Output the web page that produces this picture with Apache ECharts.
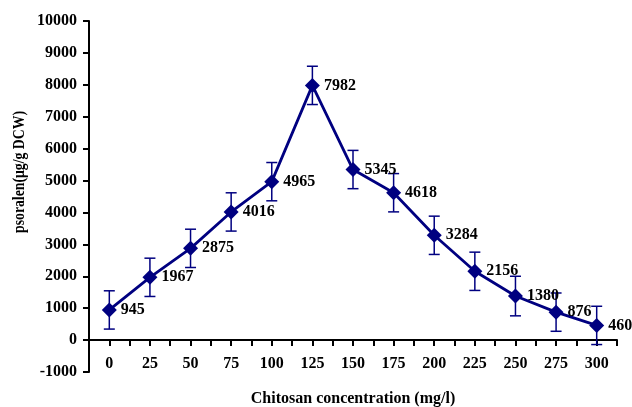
<!DOCTYPE html>
<html><head><meta charset="utf-8">
<script src="https://cdn.jsdelivr.net/npm/echarts@6/dist/echarts.min.js"></script>
<style>html,body{margin:0;padding:0;background:#fff}#c{width:632px;height:407px}</style>
</head><body><div id="c"></div>
<script>
var concentrations = [0, 25, 50, 75, 100, 125, 150, 175, 200, 225, 250, 275, 300];
var psoralen = [945, 1967, 2875, 4016, 4965, 7982, 5345, 4618, 3284, 2156, 1380, 876, 460];
var errors = [600, 600, 600, 600, 600, 600, 600, 600, 600, 600, 620, 600, 600];
var yTicks = {min: -1000, max: 10000, interval: 1000};
var xTicks = {min: -12.5, max: 312.5, interval: 12.5};

var font = '"Liberation Serif","Times New Roman",serif';
var navy = '#000080';
var lineData = concentrations.map(function(c, i){ return [c, psoralen[i]]; });
var errData = concentrations.map(function(c, i){ return [c, psoralen[i] - errors[i], psoralen[i] + errors[i]]; });

var chart = echarts.init(document.getElementById('c'));
chart.setOption({
  animation: false,
  grid: {left: 89, right: 15, top: 21, bottom: 35, containLabel: false, outerBoundsMode: 'none'},
  xAxis: [{
    type: 'value', min: xTicks.min, max: xTicks.max, interval: xTicks.interval,
    axisLine: {onZero: true, lineStyle: {color: '#000', width: 2}},
    axisTick: {show: true, inside: false, length: 6, lineStyle: {color: '#000', width: 2}},
    splitLine: {show: false},
    axisLabel: {show: false}
  }, {
    type: 'value', position: 'bottom', min: xTicks.min, max: xTicks.max, interval: xTicks.interval,
    axisLine: {show: false, onZero: false},
    axisTick: {show: false},
    splitLine: {show: false},
    axisLabel: {
      margin: -16, color: '#000', fontFamily: font, fontWeight: 'bold', fontSize: 16,
      formatter: function(v){ return (v >= 0 && v % 25 === 0) ? String(v) : ''; }
    },
    name: 'Chitosan concentration (mg/l)', nameLocation: 'middle', nameGap: 19,
    nameTextStyle: {color: '#000', fontFamily: font, fontWeight: 'bold', fontSize: 16}
  }],
  yAxis: {
    type: 'value', min: yTicks.min, max: yTicks.max, interval: yTicks.interval,
    axisLine: {show: true, onZero: false, lineStyle: {color: '#000', width: 2}},
    axisTick: {show: true, length: 6, lineStyle: {color: '#000', width: 2}},
    splitLine: {show: false},
    axisLabel: {margin: 12, color: '#000', fontFamily: font, fontWeight: 'bold', fontSize: 16,
      formatter: function(v){ return String(v); }}
  },
  graphic: [{
    type: 'text', x: 12, y: 233, rotation: Math.PI / 2, scaleX: 0.86,
    style: {text: 'psoralen(μg/g DCW)', font: 'bold 16px ' + font, fill: '#000', textVerticalAlign: 'top'}
  }],
  series: [{
    type: 'custom',
    xAxisIndex: 0,
    data: errData,
    z: 1,
    renderItem: function(params, api){
      var x = api.value(0);
      var lo = api.coord([x, api.value(1)]);
      var hi = api.coord([x, api.value(2)]);
      var w = 5.5;
      var st = {stroke: navy, lineWidth: 1.5};
      return {type: 'group', children: [
        {type: 'line', shape: {x1: lo[0], y1: lo[1], x2: hi[0], y2: hi[1]}, style: st},
        {type: 'line', shape: {x1: lo[0]-w, y1: lo[1], x2: lo[0]+w, y2: lo[1]}, style: st},
        {type: 'line', shape: {x1: hi[0]-w, y1: hi[1], x2: hi[0]+w, y2: hi[1]}, style: st}
      ]};
    }
  }, {
    type: 'line',
    xAxisIndex: 0,
    data: lineData,
    z: 2,
    symbol: 'diamond', symbolSize: 15,
    lineStyle: {color: navy, width: 2.8},
    itemStyle: {color: navy},
    label: {
      show: true, position: 'right', distance: 4, color: '#000',
      fontFamily: font, fontWeight: 'bold', fontSize: 16,
      formatter: function(p){ return String(p.value[1]); }
    }
  }]
});
</script></body></html>
